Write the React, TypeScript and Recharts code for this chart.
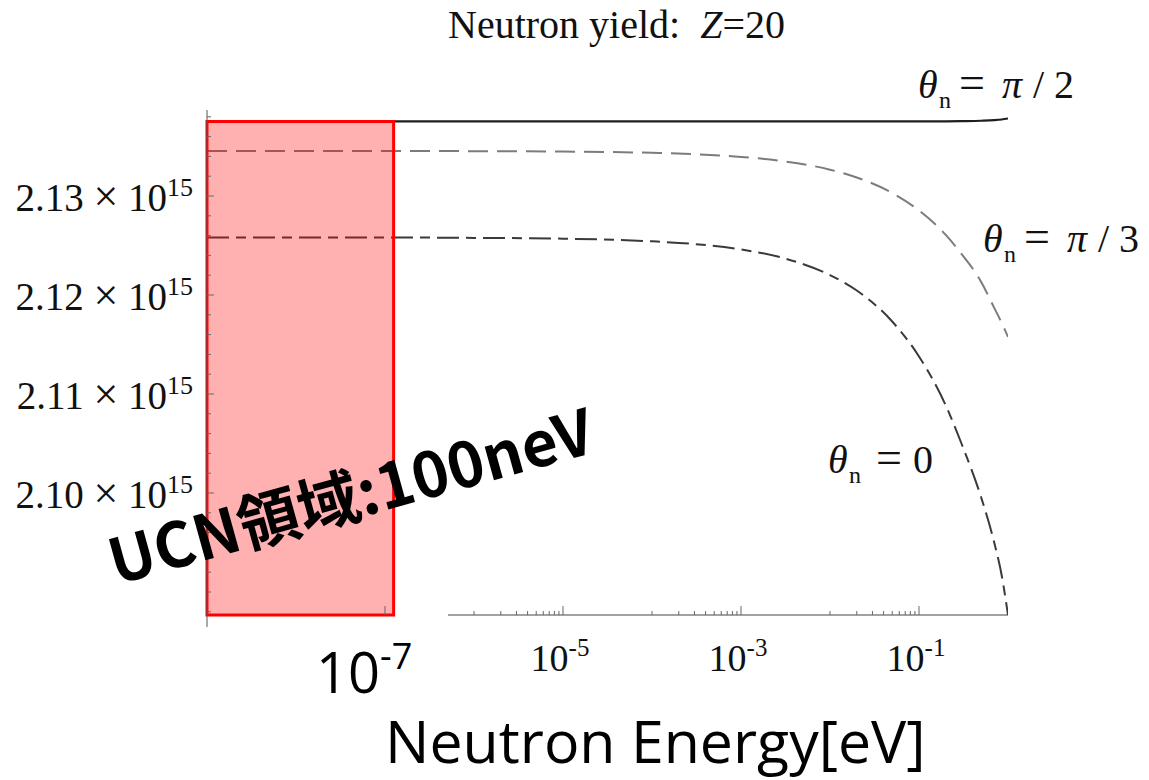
import React from "react";
import { LineChart, Line, XAxis, YAxis, ReferenceArea, ReferenceLine } from "recharts";

// neutron energy [eV] and the three yield curves
const energy = [1e-9, 1e-8, 1e-7, 1e-6, 1e-5, 1e-4, 3e-4, 1e-3, 3e-3, 1e-2, 2e-2, 5e-2, 0.1, 0.2, 0.3, 0.5, 0.7, 0.85, 1];
const yieldHalfPi = [
  2.13753e15, 2.13753e15, 2.13753e15, 2.13753e15, 2.13753e15, 2.13753e15, 2.13753e15, 2.13753e15, 2.13753e15, 2.13753e15,
  2.13753e15, 2.13753e15, 2.13753e15, 2.13754e15, 2.13756e15, 2.1376e15, 2.13766e15, 2.13773e15, 2.13783e15,
];
const yieldThirdPi = [
  2.13455e15, 2.13455e15, 2.13455e15, 2.13453e15, 2.13449e15, 2.13436e15, 2.13422e15, 2.13395e15, 2.13351e15, 2.13266e15,
  2.13187e15, 2.13031e15, 2.12854e15, 2.12607e15, 2.12415e15, 2.12132e15, 2.1187e15, 2.11718e15, 2.11577e15,
];
const yieldZero = [
  2.12581e15, 2.12581e15, 2.12581e15, 2.12577e15, 2.12569e15, 2.12542e15, 2.12515e15, 2.1246e15, 2.12373e15, 2.12201e15,
  2.12045e15, 2.11732e15, 2.11379e15, 2.10884e15, 2.105e15, 2.09954e15, 2.095e15, 2.09167e15, 2.08768e15,
];

// axes
const xDomain = [1e-9, 1];
const yDomain = [2.087677e15, 2.138687e15];
const xMajorValues = [1e-9, 1e-7, 1e-5, 1e-3, 1e-1];
const xLabelValues = [1e-5, 1e-3, 1e-1];
const xLabelExps = ["-5", "-3", "-1"];
const xMinorDecades = [1e-6, 1e-4, 1e-2];
const minorSteps = [1, 2, 3, 4, 5, 6, 7, 8, 9];
const yTickValues = [
  2.088e15, 2.09e15, 2.092e15, 2.094e15, 2.096e15, 2.098e15, 2.1e15, 2.102e15, 2.104e15, 2.106e15, 2.108e15, 2.11e15, 2.112e15,
  2.114e15, 2.116e15, 2.118e15, 2.12e15, 2.122e15, 2.124e15, 2.126e15, 2.128e15, 2.13e15, 2.132e15, 2.134e15, 2.136e15, 2.138e15,
];
const yLabelValues = [2.1e15, 2.11e15, 2.12e15, 2.13e15];
const yLabelTexts = ["2.10", "2.11", "2.12", "2.13"];

// UCN band and gap in the bottom axis line
const ucnBand = [1e-9, 1.25e-7];
const axisGap = [7.5e-9, 5.1e-7];

const data = energy.map((e, i) => ({
  e,
  halfPi: yieldHalfPi[i],
  thirdPi: yieldThirdPi[i],
  zero: yieldZero[i],
}));

const xTicks = [...xMajorValues, ...xMinorDecades.flatMap((d) => minorSteps.map((k) => k * d))].sort((a, b) => a - b);

const serif = "'Liberation Serif', 'Times New Roman', serif";
const sans = "'Open Sans', 'Noto Sans', sans-serif";

const near = (a: number, b: number) => Math.abs(a - b) <= Math.abs(b) * 1e-6;

function XTick(props: any) {
  const { x, y, payload } = props;
  const v = payload.value;
  if (near(v, 1e-9)) return <line x1={x} x2={x} y1={y} y2={y + 12} stroke="#555" />;
  const major = xMajorValues.some((t) => near(v, t));
  const li = xLabelValues.findIndex((t) => near(v, t));
  return (
    <g>
      <line x1={x} x2={x} y1={y} y2={y - (major ? 9 : 4)} stroke="#666" />
      {li >= 0 && (
        <text x={x - 3} y={y + 56} textAnchor="middle" fontFamily={serif} fontSize={38} fill="#111">
          10
          <tspan fontSize={25} dy={-15}>
            {xLabelExps[li]}
          </tspan>
        </text>
      )}
    </g>
  );
}

function YTick(props: any) {
  const { x, y, payload } = props;
  const li = yLabelValues.findIndex((t) => near(payload.value, t));
  return (
    <g>
      <line x1={x} x2={x + (li >= 0 ? 7 : 4)} y1={y} y2={y} stroke="#666" />
      {li >= 0 && (
        <text x={x - 14} y={y + 15} textAnchor="end" fontFamily={serif} fontSize={39} fill="#111" style={{ whiteSpace: "pre" }}>
          {yLabelTexts[li] + " "}
          <tspan fontSize={44}>×</tspan>
          {" 10"}
          <tspan fontSize={26} dy={-15}>
            15
          </tspan>
        </text>
      )}
    </g>
  );
}

function ThetaLabel({ x, y, parts }: { x: number; y: number; parts: [number, string, boolean][] }) {
  return (
    <g fontFamily={serif} fill="#111">
      <text x={x} y={y} fontSize={40} fontStyle="italic">
        θ
      </text>
      <text x={x + 21} y={y + 10} fontSize={24}>
        n
      </text>
      {parts.map(([dx, s, it], i) => (
        <text key={i} x={x + dx} y={y} fontSize={s === "=" ? 46 : 40} fontStyle={it ? "italic" : "normal"}>
          {s}
        </text>
      ))}
    </g>
  );
}

export default function App() {
  return (
    <div style={{ position: "absolute", left: 0, top: 0, width: 1149, height: 780, background: "#fff" }}>
      <LineChart width={1149} height={780} data={data} margin={{ top: 110, right: 141, bottom: 105, left: 0 }}>
        <XAxis
          dataKey="e"
          type="number"
          scale="log"
          domain={xDomain}
          ticks={xTicks}
          interval={0}
          allowDataOverflow
          axisLine={false}
          tickLine={false}
          tickSize={0}
          tickMargin={0}
          height={60}
          tick={<XTick />}
        />
        <YAxis
          type="number"
          domain={yDomain}
          ticks={yTickValues}
          interval={0}
          allowDataOverflow
          axisLine={{ stroke: "#555" }}
          tickLine={false}
          tickSize={0}
          tickMargin={0}
          width={207}
          tick={<YTick />}
        />
        <ReferenceLine
          segment={[
            { x: xDomain[0], y: yDomain[0] },
            { x: axisGap[0], y: yDomain[0] },
          ]}
          stroke="#444"
        />
        <ReferenceLine
          segment={[
            { x: axisGap[1], y: yDomain[0] },
            { x: xDomain[1], y: yDomain[0] },
          ]}
          stroke="#444"
        />
        <Line dataKey="halfPi" type="monotone" stroke="#1e1e1e" strokeWidth={2.2} dot={false} isAnimationActive={false} />
        <Line
          dataKey="thirdPi"
          type="monotone"
          stroke="#7c7c7c"
          strokeWidth={2}
          strokeDasharray="20 9"
          dot={false}
          isAnimationActive={false}
        />
        <Line
          dataKey="zero"
          type="monotone"
          stroke="#3a3a3a"
          strokeWidth={2}
          strokeDasharray="22 7 10 7"
          dot={false}
          isAnimationActive={false}
        />
        <ReferenceArea
          x1={ucnBand[0]}
          x2={ucnBand[1]}
          y1={yDomain[0]}
          y2={yieldHalfPi[0]}
          fill="#ff0000"
          fillOpacity={0.31}
          stroke="#ff0000"
          strokeWidth={3}
          strokeOpacity={1}
          zIndex={450}
        />
      </LineChart>
      <svg width={1149} height={780} style={{ position: "absolute", left: 0, top: 0, pointerEvents: "none" }}>
        <text x={448} y={38} fontFamily={serif} fontSize={40} fill="#111" style={{ whiteSpace: "pre" }}>
          {"Neutron yield:  "}
          <tspan fontStyle="italic">Z</tspan>
          {"=20"}
        </text>
        <ThetaLabel x={918} y={98} parts={[[41, "=", false], [84, "π", true], [115, "/", false], [136, "2", false]]} />
        <ThetaLabel x={983} y={252} parts={[[41, "=", false], [84, "π", true], [115, "/", false], [136, "3", false]]} />
        <ThetaLabel x={828} y={473} parts={[[48, "=", false], [85, "0", false]]} />
        <text
          x={116}
          y={585}
          transform="rotate(-15.5 116 585)"
          fontFamily="'Noto Sans CJK JP', sans-serif"
          fontWeight={700}
          fontSize={62}
          fill="#000"
        >
          UCN領域:100neV
        </text>
        <text x={316} y={693} fontFamily={sans} fontSize={56} fill="#000">
          10
          <tspan fontSize={36} dy={-24}>
            -7
          </tspan>
        </text>
        <text x={385} y={763} fontFamily={sans} fontSize={59} fill="#000">
          Neutron Energy[eV]
        </text>
      </svg>
    </div>
  );
}
